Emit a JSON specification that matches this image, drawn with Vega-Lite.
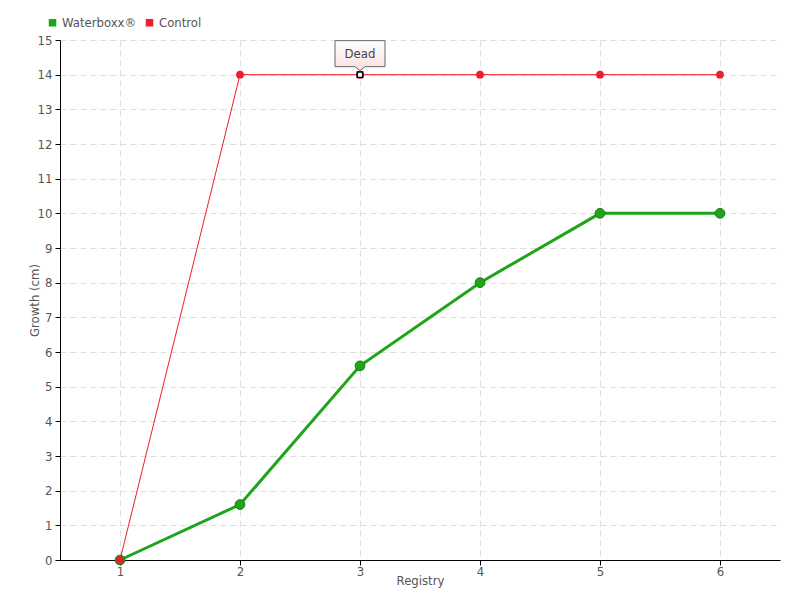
{
  "$schema": "https://vega.github.io/schema/vega-lite/v6.json",
  "width": 720,
  "height": 520,
  "autosize": "none",
  "padding": {"left": 60, "top": 40, "right": 20, "bottom": 40},
  "background": "white",
  "config": {
    "view": {"stroke": null},
    "font": "DejaVu Sans Condensed",
    "axis": {
      "domainColor": "#000000",
      "domainWidth": 1,
      "tickColor": "#000000",
      "tickSize": 5,
      "gridColor": "#dddddd",
      "gridDash": [6, 4],
      "labelColor": "#555555",
      "labelFontSize": 13,
      "labelFont": "DejaVu Sans Condensed",
      "titleColor": "#555555",
      "titleFontSize": 13,
      "titleFontWeight": "normal",
      "titleFont": "DejaVu Sans Condensed"
    },
    "legend": {
      "labelFont": "DejaVu Sans Condensed",
      "labelFontSize": 13,
      "labelColor": "#555555"
    }
  },
  "datasets": {
    "series": [
      {"registry": 1, "growth": 0, "series": "Waterboxx®"},
      {"registry": 2, "growth": 1.6, "series": "Waterboxx®"},
      {"registry": 3, "growth": 5.6, "series": "Waterboxx®"},
      {"registry": 4, "growth": 8, "series": "Waterboxx®"},
      {"registry": 5, "growth": 10, "series": "Waterboxx®"},
      {"registry": 6, "growth": 10, "series": "Waterboxx®"},
      {"registry": 1, "growth": 0, "series": "Control"},
      {"registry": 2, "growth": 14, "series": "Control"},
      {"registry": 3, "growth": 14, "series": "Control"},
      {"registry": 4, "growth": 14, "series": "Control"},
      {"registry": 5, "growth": 14, "series": "Control"},
      {"registry": 6, "growth": 14, "series": "Control"}
    ],
    "note": [
      {"registry": 3, "growth": 14, "label": "Dead"}
    ]
  },
  "data": {"name": "series"},
  "encoding": {
    "x": {
      "field": "registry",
      "type": "ordinal",
      "scale": {"type": "point", "padding": 0.5, "domain": [1, 2, 3, 4, 5, 6]},
      "axis": {"title": "Registry", "labelAngle": 0, "titlePadding": -4, "labelPadding": 0, "grid": true}
    },
    "y": {
      "field": "growth",
      "type": "quantitative",
      "scale": {"domain": [0, 15], "nice": false},
      "axis": {"title": "Growth (cm)", "values": [0,1,2,3,4,5,6,7,8,9,10,11,12,13,14,15], "titlePadding": -4, "labelPadding": 3}
    }
  },
  "layer": [
    {
      "transform": [{"filter": "datum.series === 'Waterboxx®'"}],
      "mark": {"type": "line", "strokeWidth": 3},
      "encoding": {
        "color": {
          "field": "series",
          "type": "nominal",
          "scale": {"domain": ["Waterboxx®", "Control"], "range": ["#1fa51a", "#ee1d2c"]},
          "legend": {
            "title": null,
            "orient": "none",
            "direction": "horizontal",
            "legendX": -14,
            "legendY": -24,
            "symbolType": "square",
            "symbolSize": 36,
            "symbolOffset": 0,
            "columnPadding": 6,
            "labelOffset": 3
          }
        }
      }
    },
    {
      "transform": [{"filter": "datum.series === 'Waterboxx®'"}],
      "mark": {"type": "point", "filled": true, "size": 95, "stroke": "#187a14", "strokeWidth": 1, "opacity": 1},
      "encoding": {
        "color": {"field": "series", "type": "nominal"}
      }
    },
    {
      "transform": [{"filter": "datum.series === 'Control'"}],
      "mark": {"type": "line", "strokeWidth": 1},
      "encoding": {
        "color": {"field": "series", "type": "nominal"}
      }
    },
    {
      "transform": [{"filter": "datum.series === 'Control'"}],
      "mark": {"type": "point", "filled": true, "size": 60, "opacity": 1},
      "encoding": {
        "color": {"field": "series", "type": "nominal"}
      }
    },
    {
      "data": {"name": "note"},
      "mark": {
        "type": "point",
        "shape": "M-25,-34 L25,-34 L25,-8 L5,-8 L0,-4 L-5,-8 L-25,-8 Z",
        "size": 4,
        "filled": true,
        "fill": {"gradient": "linear", "x1": 0, "y1": 0, "x2": 0, "y2": 1, "stops": [{"offset": 0, "color": "#ffffff"}, {"offset": 1, "color": "#fbdde0"}]},
        "stroke": "#666666",
        "strokeWidth": 1,
        "opacity": 1
      },
      "encoding": {}
    },
    {
      "data": {"name": "note"},
      "mark": {"type": "point", "shape": "square", "size": 30, "filled": true, "fill": "white", "stroke": "black", "strokeWidth": 1.5, "opacity": 1},
      "encoding": {}
    },
    {
      "data": {"name": "note"},
      "mark": {"type": "text", "dy": -21, "fontSize": 13, "color": "#444444", "font": "DejaVu Sans Condensed"},
      "encoding": {"text": {"field": "label"}}
    }
  ]
}
